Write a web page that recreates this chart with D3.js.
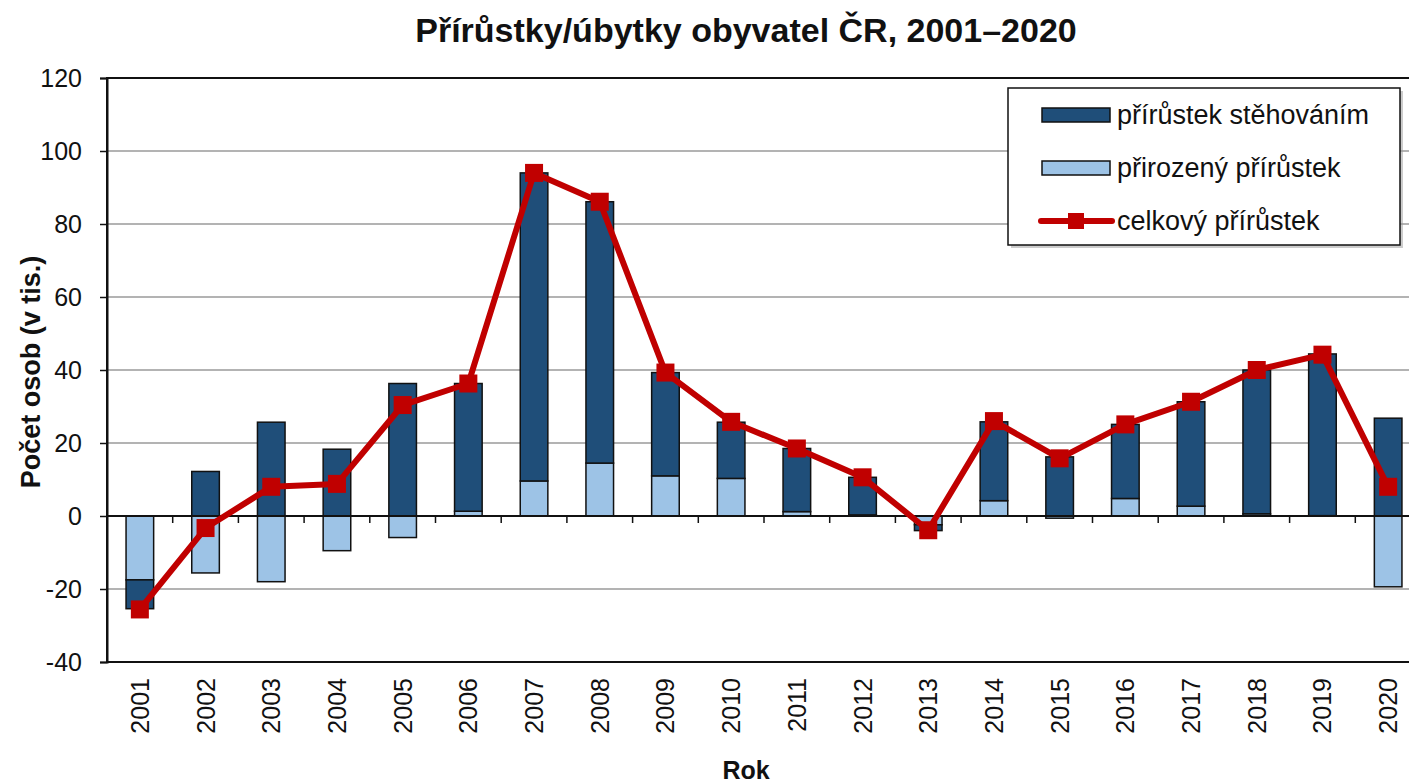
<!DOCTYPE html>
<html>
<head>
<meta charset="utf-8">
<script src="https://cdn.jsdelivr.net/npm/d3@7"></script>
<style>
  body { margin: 0; background: #fff; }
  svg { display: block; font-family: "Liberation Sans", Arial, sans-serif; }
</style>
</head>
<body>
<div id="chart"></div>
<script>
// Data (v tis.)
const years = ["2001","2002","2003","2004","2005","2006","2007","2008","2009","2010",
               "2011","2012","2013","2014","2015","2016","2017","2018","2019","2020"];
const natural = [-17.5, -15.6, -18.0, -9.5, -5.9, 1.3, 9.6, 14.5, 11.0, 10.3,
                 1.2, 0.3, -2.4, 4.2, -0.6, 4.8, 2.7, 0.6, 0.1, -19.4];
const migration = [-7.9, 12.2, 25.7, 18.3, 36.3, 35.0, 84.4, 71.6, 28.3, 15.4,
                   17.3, 10.3, -1.6, 21.6, 16.2, 20.3, 28.6, 39.4, 44.3, 26.8];
const total = [-25.6, -3.3, 8.0, 8.8, 30.4, 36.3, 94.0, 86.1, 39.3, 25.8,
               18.5, 10.6, -3.9, 26.0, 15.8, 25.1, 31.3, 40.0, 44.2, 8.0];
const yTicks = [-40, -20, 0, 20, 40, 60, 80, 100, 120];
const legendLabels = ["přírůstek stěhováním", "přirozený přírůstek", "celkový přírůstek"];

const W = 1409, H = 784;
const pLeft = 107, pRight = 1421, pTop = 78, pBottom = 662;
const darkBlue = "#1f4e79", lightBlue = "#9dc3e6", red = "#c00000";

const svg = d3.select("#chart").append("svg")
    .attr("width", W).attr("height", H);

const x = d3.scaleBand()
    .domain(years)
    .range([pLeft, pRight])
    .paddingInner(0.58)
    .paddingOuter(0.29);

const y = d3.scaleLinear()
    .domain([-40, 120])
    .range([pBottom, pTop]);

// Grid
svg.append("g")
    .selectAll("line").data(yTicks.filter(d => d !== 0 && d !== -40 && d !== 120)).join("line")
    .attr("x1", pLeft).attr("x2", pRight)
    .attr("y1", d => y(d)).attr("y2", d => y(d))
    .attr("stroke", "#b3b3b3").attr("stroke-width", 2);

// Plot border
svg.append("rect")
    .attr("x", pLeft).attr("y", pTop)
    .attr("width", pRight - pLeft).attr("height", pBottom - pTop)
    .attr("fill", "none").attr("stroke", "#111").attr("stroke-width", 2);

// Stacked bars (natural first, migration on top / below)
const rows = years.map((yr, i) => ({ year: yr, natural: natural[i], migration: migration[i] }));
const stack = d3.stack()
    .keys(["natural", "migration"])
    .offset(d3.stackOffsetDiverging);
const series = stack(rows);
const fills = { natural: lightBlue, migration: darkBlue };

svg.append("g")
    .selectAll("g").data(series).join("g")
    .attr("fill", s => fills[s.key])
    .selectAll("rect").data(s => s).join("rect")
    .attr("x", d => x(d.data.year))
    .attr("width", x.bandwidth())
    .attr("y", d => y(Math.max(d[0], d[1])))
    .attr("height", d => Math.abs(y(d[0]) - y(d[1])))
    .attr("stroke", "#111").attr("stroke-width", 1.5);

// Zero axis with category ticks
svg.append("line")
    .attr("x1", pLeft).attr("x2", pRight)
    .attr("y1", y(0)).attr("y2", y(0))
    .attr("stroke", "#111").attr("stroke-width", 2);

const step = x.step();
svg.append("g")
    .selectAll("line").data(d3.range(1, years.length)).join("line")
    .attr("x1", i => pLeft + i * step).attr("x2", i => pLeft + i * step)
    .attr("y1", y(0)).attr("y2", y(0) + 7)
    .attr("stroke", "#111").attr("stroke-width", 1.5);

// Y axis
const yAxis = svg.append("g")
    .attr("transform", `translate(${pLeft},0)`)
    .call(d3.axisLeft(y).tickValues(yTicks).tickSize(7).tickPadding(18)
        .tickFormat(d => String(d)));
yAxis.select(".domain").attr("stroke", "#111").attr("stroke-width", 2);
yAxis.selectAll("line").attr("stroke", "#111").attr("stroke-width", 1.5);
yAxis.selectAll("text")
    .style("font-size", "25px")
    .style("font-family", "'Liberation Sans', Arial, sans-serif")
    .attr("fill", "#111");

// X labels (rotated)
svg.append("g")
    .selectAll("text").data(years).join("text")
    .attr("transform", d => `translate(${x(d) + x.bandwidth() / 2 + 9},${pBottom + 16}) rotate(-90)`)
    .attr("text-anchor", "end")
    .style("font-size", "25px")
    .attr("fill", "#111")
    .text(d => d);

// Total line
const line = d3.line()
    .x((d, i) => x(years[i]) + x.bandwidth() / 2)
    .y(d => y(d));

svg.append("path")
    .datum(total)
    .attr("d", line)
    .attr("fill", "none")
    .attr("stroke", red)
    .attr("stroke-width", 6)
    .attr("stroke-linejoin", "round");

const ms = 18;
svg.append("g")
    .selectAll("rect").data(total).join("rect")
    .attr("x", (d, i) => x(years[i]) + x.bandwidth() / 2 - ms / 2)
    .attr("y", d => y(d) - ms / 2)
    .attr("width", ms).attr("height", ms)
    .attr("fill", red);

// Titles
svg.append("text")
    .attr("x", 746).attr("y", 42)
    .attr("text-anchor", "middle")
    .style("font-size", "34px").style("font-weight", "bold")
    .attr("fill", "#111")
    .text("Přírůstky/úbytky obyvatel ČR, 2001–2020");

svg.append("text")
    .attr("transform", `translate(40,${372}) rotate(-90)`)
    .attr("text-anchor", "middle")
    .style("font-size", "27px").style("font-weight", "bold")
    .attr("fill", "#111")
    .text("Počet osob (v tis.)");

svg.append("text")
    .attr("x", 746).attr("y", 779)
    .attr("text-anchor", "middle")
    .style("font-size", "25px").style("font-weight", "bold")
    .attr("fill", "#111")
    .text("Rok");

// Legend
const legend = svg.append("g");
legend.append("rect")
    .attr("x", 1011).attr("y", 91).attr("width", 392).attr("height", 157)
    .attr("fill", "#999").attr("opacity", 0.5);
legend.append("rect")
    .attr("x", 1008).attr("y", 88).attr("width", 392).attr("height", 157)
    .attr("fill", "#fff").attr("stroke", "#111").attr("stroke-width", 1.5);

const rowY = [115, 168, 221];
[darkBlue, lightBlue].forEach((c, i) => {
    legend.append("rect")
        .attr("x", 1042).attr("y", rowY[i] - 7)
        .attr("width", 68).attr("height", 14)
        .attr("fill", c).attr("stroke", "#111").attr("stroke-width", 1.5);
});
legend.append("line")
    .attr("x1", 1041).attr("x2", 1112)
    .attr("y1", rowY[2]).attr("y2", rowY[2])
    .attr("stroke", red).attr("stroke-width", 6).attr("stroke-linecap", "round");
legend.append("rect")
    .attr("x", 1076 - 8).attr("y", rowY[2] - 8)
    .attr("width", 16).attr("height", 16)
    .attr("fill", red);

legendLabels.forEach((t, i) => {
    legend.append("text")
        .attr("x", 1117).attr("y", rowY[i] + 9)
        .style("font-size", "27px")
        .attr("fill", "#111")
        .text(t);
});
</script>
</body>
</html>
